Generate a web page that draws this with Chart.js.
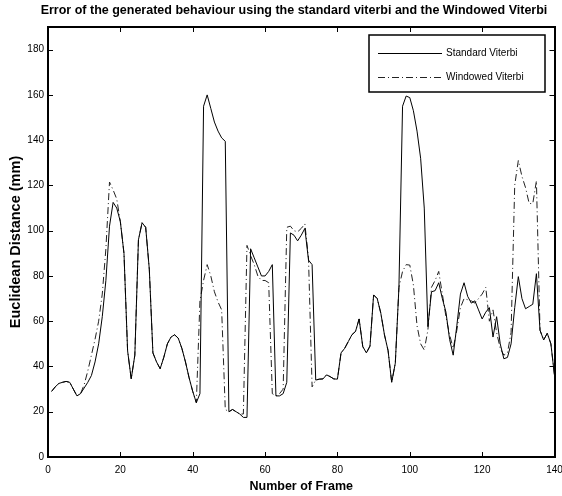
<!DOCTYPE html>
<html lang="en">
<head>
  <meta charset="UTF-8">
  <title>Error of the generated behaviour</title>
  <style>
    html, body { margin: 0; padding: 0; background: white; }
    .chart-container { position: relative; width: 562px; height: 496px; }
  </style>
</head>
<body>
  <div class="chart-container">
    <canvas id="viterbi-chart"></canvas>
  </div>

  <script src="https://cdn.jsdelivr.net/npm/chart.js@4.4.0/dist/chart.umd.min.js"></script>
  <script>
    const FONT = "'Liberation Sans', Arial, sans-serif";

    const TITLE = 'Error of the generated behaviour using the standard viterbi and the Windowed Viterbi';
    const X_TITLE = 'Number of Frame';
    const Y_TITLE = 'Euclidean Distance (mm)';
    const SERIES_LABELS = ['Standard Viterbi', 'Windowed Viterbi'];

    // error per frame, frames 1..140
    const STANDARD = [
      29, 31, 32.5, 33, 33.4, 33, 30, 27, 28, 30.5,
      33, 36, 42, 50, 62, 78, 102, 112.5, 110, 104,
      90, 47, 34.5, 45, 96, 103.5, 101.5, 83, 46, 42,
      39, 44, 50, 53, 54, 52.5, 48, 42, 35, 29,
      24, 28, 155, 160, 154, 148, 144, 141, 139.5, 20,
      21, 20, 19, 17.5, 17.5, 92, 88, 84, 80, 80,
      82, 85, 27, 27, 28, 33, 99, 98, 95.5, 98,
      101, 87, 85, 34, 34.4, 34.5, 36.3, 35.5, 34.5, 34.4,
      46, 48, 51, 54, 55.5, 61, 48.8, 46, 49, 71.6,
      70, 63.5, 54, 47, 33, 41.5, 75, 155, 159.5, 158.8,
      153, 144, 132, 110, 57.6, 73, 73.5, 77, 70, 64,
      52, 45, 58, 72, 77, 71, 68, 69, 65, 61,
      64, 66, 53, 62, 50, 43.4, 44, 50, 66, 79.7,
      70, 65.5, 66.5, 67.5, 81, 56, 51.7, 54.7, 50, 36
    ];
    const WINDOWED = [
      29, 31, 32.5, 33, 33.4, 33, 30, 27, 28, 32,
      38, 45, 52, 60, 72, 92, 121.5, 118, 114, 104,
      90, 47, 34.5, 45, 96, 103.5, 101.5, 83, 46, 42,
      39, 44, 50, 53, 54, 52.5, 48, 42, 35, 29,
      24, 69, 78, 85, 80, 73, 68.5, 65, 21, 20,
      21, 20, 19, 19, 93.5, 89, 85, 80, 78, 78,
      77, 28, 27, 28, 30, 101.5, 102, 100, 99.5, 101,
      103, 88, 31, 34, 34.4, 34.5, 36.3, 35.5, 34.5, 34.4,
      46, 48, 51, 54, 55.5, 61, 48.8, 46, 49, 71.6,
      70, 63.5, 54, 47, 33, 41.5, 75, 82, 85, 84.8,
      76, 58, 50, 47.3, 56, 75, 78, 82, 72, 62,
      54, 48, 56, 66, 70, 69.5, 69, 68, 70, 72,
      75, 60, 65, 55, 48, 45, 46, 55, 120, 131,
      124, 119, 112, 112, 122, 56, 51.7, 54.7, 50, 36
    ];

    const X_MIN = 0, X_MAX = 140, X_STEP = 20;
    const Y_MIN = 0, Y_MAX = 190, Y_STEP = 20;

    const DASH_DOT = [7, 3, 1, 3];

    const toPoints = (values) => values.map((v, i) => ({ x: i + 1, y: v }));

    // matlab style box with inward ticks on all four sides, the title and the legend
    const boxPlugin = {
      id: 'box',
      afterDraw(chart) {
        const { ctx, chartArea: a, scales } = chart;
        ctx.save();
        ctx.strokeStyle = '#000';
        ctx.lineWidth = 1;
        const len = 5;
        ctx.beginPath();
        for (const t of scales.x.ticks) {
          const px = Math.round(scales.x.getPixelForValue(t.value)) + 0.5;
          ctx.moveTo(px, a.bottom); ctx.lineTo(px, a.bottom - len);
          ctx.moveTo(px, a.top); ctx.lineTo(px, a.top + len);
        }
        for (const t of scales.y.ticks) {
          const py = Math.round(scales.y.getPixelForValue(t.value)) + 0.5;
          ctx.moveTo(a.left, py); ctx.lineTo(a.left + len, py);
          ctx.moveTo(a.right, py); ctx.lineTo(a.right - len, py);
        }
        ctx.stroke();
        ctx.lineWidth = 2;
        ctx.strokeRect(Math.round(a.left), Math.round(a.top),
          Math.round(a.right - a.left), Math.round(a.bottom - a.top));

        // title, centred a little right of the canvas centre like the original
        ctx.fillStyle = '#000';
        ctx.font = 'bold 12.5px ' + FONT;
        ctx.textAlign = 'center';
        ctx.textBaseline = 'middle';
        ctx.fillText(TITLE, 294, 11);

        const lx = 369, ly = 35, lw = 176, lh = 57;
        ctx.fillStyle = '#fff';
        ctx.fillRect(lx, ly, lw, lh);
        ctx.lineWidth = 1.5;
        ctx.strokeRect(lx, ly, lw, lh);
        ctx.font = '10px ' + FONT;
        ctx.textAlign = 'left';
        chart.data.datasets.forEach((ds, i) => {
          const y = ly + 18 + i * 24 + 0.5;
          ctx.beginPath();
          ctx.lineWidth = 1;
          ctx.setLineDash(ds.borderDash || []);
          ctx.strokeStyle = ds.borderColor;
          ctx.moveTo(378, y); ctx.lineTo(442, y);
          ctx.stroke();
          ctx.setLineDash([]);
          ctx.fillStyle = '#000';
          ctx.fillText(ds.label, 446, y);
        });
        ctx.restore();
      }
    };

    const ctx = document.getElementById('viterbi-chart');
    new Chart(ctx, {
      type: 'line',
      data: {
        datasets: [
          {
            label: SERIES_LABELS[0],
            data: toPoints(STANDARD),
            borderColor: '#000',
            borderWidth: 1,
            pointRadius: 0,
            tension: 0,
            order: 0
          },
          {
            label: SERIES_LABELS[1],
            data: toPoints(WINDOWED),
            borderColor: '#222',
            borderWidth: 1,
            borderDash: DASH_DOT,
            pointRadius: 0,
            tension: 0,
            order: 1
          }
        ]
      },
      plugins: [boxPlugin],
      options: {
        animation: false,
        responsive: true,
        maintainAspectRatio: false,
        layout: { padding: { top: 27, left: 0, right: 0, bottom: 0 } },
        plugins: {
          legend: { display: false },
          tooltip: { enabled: false },
          title: { display: false }
        },
        scales: {
          x: {
            type: 'linear',
            min: X_MIN,
            max: X_MAX,
            grid: { display: false, drawTicks: false },
            border: { display: false },
            ticks: {
              stepSize: X_STEP,
              color: '#000',
              padding: 7,
              maxRotation: 0,
              font: { family: FONT, size: 10 }
            },
            title: {
              display: true,
              text: X_TITLE,
              color: '#000',
              font: { family: FONT, size: 12.5, weight: 'bold' },
              padding: { top: 0, bottom: 2 }
            },
            afterFit(scale) {
              scale.height = 39;
              scale.paddingLeft = 0;
              scale.paddingRight = 7.5;
            }
          },
          y: {
            min: Y_MIN,
            max: Y_MAX,
            grid: { display: false, drawTicks: false },
            border: { display: false },
            ticks: {
              stepSize: Y_STEP,
              includeBounds: false,
              color: '#000',
              padding: 4,
              font: { family: FONT, size: 10 }
            },
            title: {
              display: true,
              text: Y_TITLE,
              color: '#000',
              font: { family: FONT, size: 14.5, weight: 'bold' },
              padding: { top: 7, bottom: 0 }
            },
            afterFit(scale) { scale.width = 48; }
          }
        }
      }
    });
  </script>
</body>
</html>
